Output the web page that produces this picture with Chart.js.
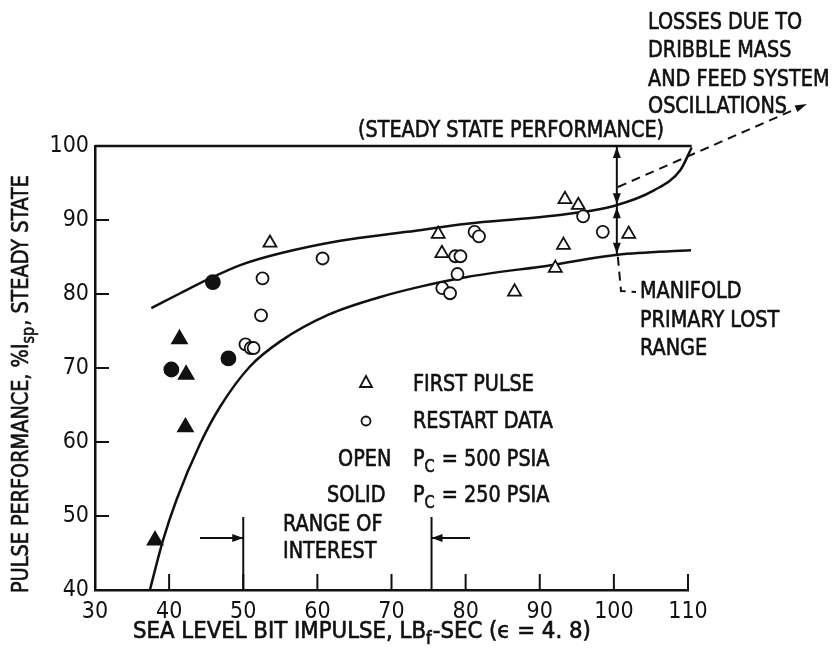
<!DOCTYPE html>
<html>
<head>
<meta charset="utf-8">
<script src="https://cdn.jsdelivr.net/npm/chart.js@4.4.1/dist/chart.umd.min.js"></script>
<style>
  html, body { margin: 0; padding: 0; background: #fff; }
</style>
</head>
<body>
<canvas id="chart" width="840" height="655"></canvas>
<script>
/* ==================== */
/* 1  Data               */
/* ==================== */
const xTicks = [30, 40, 50, 60, 70, 80, 90, 100, 110];
const yTicks = [40, 50, 60, 70, 80, 90, 100];

// first pulse, Pc = 500 psia (open triangles)
const openTriX = [53.6, 76.3, 76.8, 86.6, 92.1, 93.2, 93.4, 95.2, 102.0];
const openTriY = [86.9, 88.1, 85.5, 80.3, 83.5, 86.6, 92.8, 92.0, 88.1];

// restart data, Pc = 500 psia (open circles)
const openCircX = [52.6, 52.4, 50.3, 51.0, 51.4, 60.7, 76.85, 77.9, 78.9, 78.6, 79.3, 81.2, 81.8, 95.85, 98.5];
const openCircY = [82.1, 77.1, 73.2, 72.7, 72.7, 84.8, 80.8, 80.1, 82.7, 85.1, 85.1, 88.4, 87.8, 90.5, 88.4];

// first pulse, Pc = 250 psia (solid triangles)
const solidTriX = [41.4, 42.3, 42.2, 38.1];
const solidTriY = [73.9, 69.1, 62.0, 46.7];

// restart data, Pc = 250 psia (solid circles)
const solidCircX = [45.9, 48.0, 40.3];
const solidCircY = [81.6, 71.3, 69.8];

// envelope curves
const upperX = [37.6, 41.5, 45.1, 49.6, 55.0, 63.1, 72.1, 80.2, 89.2, 93.7, 100.0, 105.4, 109.0, 110.5];
const upperY = [78.1, 80.1, 81.9, 83.9, 85.5, 87.2, 88.4, 89.5, 90.3, 90.8, 91.9, 94.0, 96.8, 99.8];
const lowerX = [37.4, 39.2, 41.0, 44.2, 46.9, 50.9, 55.0, 61.5, 68.5, 73.9, 80.2, 91.5, 100.5, 110.4];
const lowerY = [40.0, 46.8, 52.2, 59.8, 64.8, 70.2, 73.6, 77.2, 79.6, 81.0, 82.3, 83.9, 85.3, 85.9];
const steadyX = [30, 110.5];
const steadyY = [100, 100];

// range of interest and loss markers
const rangeOfInterest = [50, 75.4];
const lossX = 100.4;
const lossLevels = [100, 92.0, 85.3];

/* ==================== */
/* 2  Helpers            */
/* ==================== */
const INK = '#111';
const FONT = '"Liberation Sans Narrow", "DejaVu Sans Condensed", "Arial Narrow", sans-serif';
const NARROW = 0.93;
const pts = (xs, ys) => xs.map((x, i) => ({ x, y: ys[i] }));

function line(ctx, x1, y1, x2, y2) {
  ctx.beginPath();
  ctx.moveTo(x1, y1);
  ctx.lineTo(x2, y2);
  ctx.stroke();
}

function arrowHead(ctx, x, y, dx, dy, len = 11, half = 4) {
  const n = Math.hypot(dx, dy);
  dx /= n; dy /= n;
  ctx.beginPath();
  ctx.moveTo(x, y);
  ctx.lineTo(x - dx * len - dy * half, y - dy * len + dx * half);
  ctx.lineTo(x - dx * len + dy * half, y - dy * len - dx * half);
  ctx.closePath();
  ctx.fill();
}

// heavier lettering: fill plus a thin outline
function ink(ctx, s, x, y) {
  ctx.lineWidth = 0.6;
  ctx.fillText(s, x, y);
  ctx.strokeText(s, x, y);
}

function text(ctx, s, x, y, align = 'left', size = 23, sx = NARROW) {
  ctx.save();
  ctx.translate(x, y);
  ctx.scale(sx, 1);
  ctx.font = size + 'px ' + FONT;
  ctx.textAlign = align;
  ctx.textBaseline = 'middle';
  ink(ctx, s, 0, 0);
  ctx.restore();
}

// draws runs of text, some as subscripts: [['P'], ['C', true], [' = 500 PSIA']]
function runs(ctx, parts, x, y, size = 23, sx = NARROW) {
  ctx.save();
  ctx.translate(x, y);
  ctx.scale(sx, 1);
  ctx.textAlign = 'left';
  ctx.textBaseline = 'middle';
  let cx = 0;
  parts.forEach(([s, sub]) => {
    ctx.font = (sub ? size * 0.75 : size) + 'px ' + FONT;
    ink(ctx, s, cx, sub ? 8 : 0);
    cx += ctx.measureText(s).width + (sub ? 1 : 0);
  });
  ctx.restore();
}

/* ==================== */
/* 3  Annotations        */
/* ==================== */
const notes = {
  id: 'notes',
  beforeDraw(chart) {
    const ctx = chart.ctx;
    ctx.save();
    ctx.fillStyle = '#fff';
    ctx.fillRect(0, 0, chart.width, chart.height);
    ctx.restore();
  },
  afterDraw(chart) {
    const { ctx, scales: { x: xs, y: ys } } = chart;
    const X = v => xs.getPixelForValue(v);
    const Y = v => ys.getPixelForValue(v);
    ctx.save();
    ctx.strokeStyle = INK;
    ctx.fillStyle = INK;
    ctx.lineWidth = 2;

    // inward ticks
    yTicks.slice(1, -1).forEach(v => line(ctx, X(30), Y(v), X(30) + 14, Y(v)));
    xTicks.slice(1).forEach(v => line(ctx, X(v), Y(40), X(v), Y(40) - 16));

    // range of interest
    const ry = 538;
    rangeOfInterest.forEach(v => line(ctx, X(v), 517, X(v), Y(40)));
    line(ctx, 200, ry, X(rangeOfInterest[0]), ry);
    arrowHead(ctx, X(rangeOfInterest[0]), ry, 1, 0);
    line(ctx, 470, ry, X(rangeOfInterest[1]), ry);
    arrowHead(ctx, X(rangeOfInterest[1]), ry, -1, 0);
    text(ctx, 'RANGE OF', 283, 525);
    text(ctx, 'INTEREST', 283, 552);

    // loss double arrows
    ctx.lineWidth = 2;
    const lx = X(lossX);
    const [y0, y1, y2] = lossLevels.map(Y);
    line(ctx, lx, y0, lx, y2);
    arrowHead(ctx, lx, y0 + 1, 0, -1);
    arrowHead(ctx, lx, y1 - 1, 0, 1);
    arrowHead(ctx, lx, y1 + 2, 0, -1);
    arrowHead(ctx, lx, y2 - 1, 0, 1);

    // dashed leaders
    ctx.setLineDash([9, 6]);
    line(ctx, 618, 187, 798, 108);
    ctx.beginPath();
    ctx.moveTo(lx + 1, y2 + 2);
    ctx.lineTo(621, 291);
    ctx.lineTo(636, 292);
    ctx.stroke();
    ctx.setLineDash([]);
    arrowHead(ctx, 807, 104, 188, -81, 12, 3.5);

    // right-hand notes
    text(ctx, 'LOSSES DUE TO', 648, 23);
    text(ctx, 'DRIBBLE MASS', 648, 51);
    text(ctx, 'AND FEED SYSTEM', 648, 80);
    text(ctx, 'OSCILLATIONS', 648, 107);
    text(ctx, 'MANIFOLD', 640, 292);
    text(ctx, 'PRIMARY LOST', 640, 321);
    text(ctx, 'RANGE', 640, 349);
    text(ctx, '(STEADY STATE PERFORMANCE)', 511, 131, 'center');

    // key
    ctx.lineWidth = 1.8;
    ctx.beginPath();
    ctx.moveTo(366, 376);
    ctx.lineTo(372, 387);
    ctx.lineTo(360, 387);
    ctx.closePath();
    ctx.stroke();
    ctx.beginPath();
    ctx.arc(366, 421, 4.5, 0, Math.PI * 2);
    ctx.stroke();
    text(ctx, 'FIRST PULSE', 413, 385);
    text(ctx, 'RESTART DATA', 413, 422);
    text(ctx, 'OPEN', 338, 460);
    text(ctx, 'SOLID', 327, 496);
    runs(ctx, [['P'], ['C', true], [' = 500 PSIA']], 413, 460);
    runs(ctx, [['P'], ['C', true], [' = 250 PSIA']], 413, 496);

    // axis titles
    runs(ctx, [['SEA LEVEL BIT IMPULSE, LB'], ['f', true], ['-SEC (\u03f5 = 4. 8)']], 133, 632, 23, 1.03);
    ctx.translate(22, 593);
    ctx.rotate(-Math.PI / 2);
    runs(ctx, [['PULSE PERFORMANCE, %I'], ['sp', true], [', STEADY STATE']], 0, 0);
    ctx.restore();
  }
};

/* ==================== */
/* 4  Chart              */
/* ==================== */
const curve = (data) => ({
  type: 'line', data, showLine: true, pointRadius: 0, borderColor: INK,
  borderWidth: 2.5, cubicInterpolationMode: 'monotone', clip: false, order: 2
});
const marks = (data, style, radius, fill) => ({
  data, showLine: false, pointStyle: style, pointRadius: radius,
  pointBorderWidth: 1.8, pointBorderColor: INK,
  pointBackgroundColor: fill ? INK : '#fff', clip: false, order: 1
});

new Chart(document.getElementById('chart'), {
  type: 'scatter',
  data: {
    datasets: [
      curve(pts(steadyX, steadyY)),
      curve(pts(upperX, upperY)),
      curve(pts(lowerX, lowerY)),
      marks(pts(openTriX, openTriY), 'triangle', 7.5, false),
      marks(pts(openCircX, openCircY), 'circle', 6, false),
      marks(pts(solidTriX, solidTriY), 'triangle', 8.5, true),
      marks(pts(solidCircX, solidCircY), 'circle', 7, true)
    ]
  },
  options: {
    responsive: false,
    animation: false,
    layout: { padding: { top: 146, right: 152, left: 0, bottom: 0 } },
    plugins: { legend: { display: false }, tooltip: { enabled: false } },
    scales: {
      x: {
        min: 30, max: 110,
        afterFit: s => { s.height = 65; },
        afterBuildTicks: s => { s.ticks = xTicks.map(value => ({ value })); },
        grid: { display: false, drawTicks: false },
        border: { display: true, color: INK, width: 2.5 },
        ticks: { color: INK, padding: 8, maxRotation: 0, font: { family: FONT, size: 23 } }
      },
      y: {
        min: 40, max: 100,
        afterFit: s => { s.width = 95; },
        afterBuildTicks: s => { s.ticks = yTicks.map(value => ({ value })); },
        grid: { display: false, drawTicks: false },
        border: { display: true, color: INK, width: 2.5 },
        ticks: { color: INK, padding: 6, font: { family: FONT, size: 23 } }
      }
    }
  },
  plugins: [notes]
});
</script>
</body>
</html>
